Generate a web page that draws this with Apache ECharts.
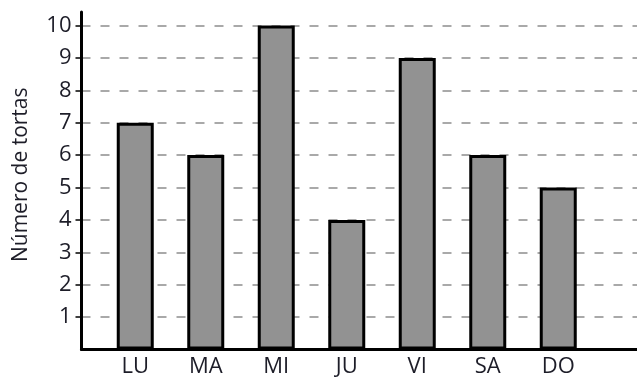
<!DOCTYPE html>
<html>
<head>
<meta charset="utf-8">
<script src="https://cdn.jsdelivr.net/npm/echarts@6/dist/echarts.min.js"></script>
<style>
  html, body { margin: 0; padding: 0; background: #fff; }
  #chart { width: 637px; height: 377px; }
</style>
</head>
<body>
<div id="chart"></div>
<script>
// Tortas vendidas por día de la semana
const dias = ['LU', 'MA', 'MI', 'JU', 'VI', 'SA', 'DO'];
const tortas = [7, 6, 10, 4, 9, 6, 5];
const yMax = 10;
const yTop = 10.42;          // the axis line runs a bit above the last tick
const yFirstTick = 1;        // ticks and dashed lines start at 1
const axisTitle = 'Número de tortas';

const FONT = '"Open Sans", "Noto Sans", sans-serif';
const TXT = '#1d1d28';

const chart = echarts.init(document.getElementById('chart'), null, { renderer: 'canvas' });

chart.setOption({
  animation: false,
  backgroundColor: '#ffffff',
  grid: [
    // bars and day labels
    { left: 100, width: 493.5, top: 25.5, bottom: 27.5, outerBoundsMode: 'none', containLabel: false },
    // frame: full-length axis lines
    { left: 81.5, right: 0, top: 12, bottom: 27.5, outerBoundsMode: 'none', containLabel: false },
    // ticks, tick labels, dashed gridlines (from 1 to 10)
    { left: 81.5, right: 0, top: 25.5, bottom: 27.5 + 32.35, outerBoundsMode: 'none', containLabel: false }
  ],
  xAxis: [
    {
      gridIndex: 0, type: 'category', data: dias, boundaryGap: true,
      axisLine: { show: false }, axisTick: { show: false },
      axisLabel: { color: TXT, fontSize: 22, fontFamily: FONT, margin: 6 }
    },
    {
      gridIndex: 1, type: 'value', min: 0, max: 1,
      axisLine: { show: true, onZero: false, lineStyle: { color: '#000', width: 3 } },
      axisTick: { show: false }, axisLabel: { show: false }, splitLine: { show: false }
    },
    {
      gridIndex: 2, type: 'value', min: 0, max: 1, show: false
    }
  ],
  yAxis: [
    {
      gridIndex: 0, type: 'value', min: 0, max: yMax, show: false
    },
    {
      gridIndex: 1, type: 'value', min: 0, max: yTop,
      axisLine: { show: true, lineStyle: { color: '#000', width: 3 } },
      axisTick: { show: false }, axisLabel: { show: false }, splitLine: { show: false },
      name: axisTitle, nameLocation: 'middle', nameGap: 50,
      nameTextStyle: { color: TXT, fontSize: 21, fontFamily: FONT, padding: [0, 0, 0, 12] }
    },
    {
      gridIndex: 2, type: 'value', min: yFirstTick, max: yMax, interval: 1,
      axisLine: { show: false },
      axisTick: { show: true, length: 6, lineStyle: { color: '#000', width: 1.5 } },
      axisLabel: { color: TXT, fontSize: 22, fontFamily: FONT, margin: 10 },
      splitLine: {
        show: true,
        lineStyle: { color: '#a9a9a9', width: 2, type: [9, 10] }
      }
    }
  ],
  series: [
    {
      type: 'bar',
      xAxisIndex: 0, yAxisIndex: 0,
      data: tortas,
      barWidth: 37,
      itemStyle: { color: '#929292', borderColor: '#000', borderWidth: 3 }
    }
  ]
});
</script>
</body>
</html>
